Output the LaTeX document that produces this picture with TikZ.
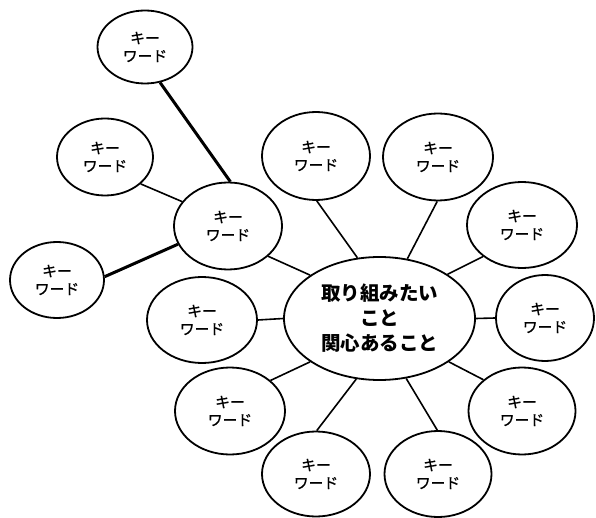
\documentclass[tikz,border=0pt]{standalone}
\usepackage{fontspec}
\newfontfamily\jp{Noto Sans CJK JP}
\newfontfamily\jpkw[FakeBold=1]{Noto Sans CJK JP}
\usetikzlibrary{shapes.geometric}

\tikzset{
  oval/.style={ellipse, draw, line width=1.8pt, inner sep=0pt, fill=white},
  kw/.style={oval, align=center, font=\jpkw\fontsize{14.8}{18}\selectfont},
  hubtext/.style={oval, align=center, font=\jp\bfseries\fontsize{19.5}{25}\selectfont},
  link/.style={line width=1.6pt},
  boldlink/.style={line width=3pt}
}

\begin{document}
\begin{tikzpicture}[x=1pt, y=-1pt]
  \useasboundingbox[fill=white] (0,0) rectangle (596,518);

  % central theme
  \node[hubtext, minimum width=191pt, minimum height=123pt] (C) at (379.5,318.5)
    {取り組みたい\\こと\\関心あること};

  % keywords around the theme
  \node[kw, minimum width=108pt, minimum height=87pt] (H)  at (228,226) {キー\\ワード};
  \node[kw, minimum width=108pt, minimum height=88pt] (K1) at (316,156) {キー\\ワード};
  \node[kw, minimum width=110pt, minimum height=87pt] (K2) at (438,157) {キー\\ワード};
  \node[kw, minimum width=110pt, minimum height=86pt] (K3) at (522,225) {キー\\ワード};
  \node[kw, minimum width=98pt,  minimum height=86pt] (K4) at (545,318) {キー\\ワード};
  \node[kw, minimum width=110pt, minimum height=86pt] (K5) at (202,320) {キー\\ワード};
  \node[kw, minimum width=110pt, minimum height=87pt] (K6) at (230,411) {キー\\ワード};
  \node[kw, minimum width=107pt, minimum height=87pt] (K7) at (522,411) {キー\\ワード};
  \node[kw, minimum width=108pt, minimum height=85pt] (K8) at (316,474) {キー\\ワード};
  \node[kw, minimum width=107pt, minimum height=86pt] (K9) at (438,474) {キー\\ワード};

  % keywords branching off the left keyword
  \node[kw, minimum width=95pt, minimum height=73pt] (T)  at (145,47)  {キー\\ワード};
  \node[kw, minimum width=96pt, minimum height=77pt] (LU) at (105,157) {キー\\ワード};
  \node[kw, minimum width=94pt, minimum height=76pt] (LL) at (57,280)  {キー\\ワード};

  % connectors
  \draw[link] (H.-37)   -- (C.148);
  \draw[link] (K1.-89)  -- (C.110.6);
  \draw[link] (K2.-91)  -- (C.65.5);
  \draw[link] (K3.219)  -- (C.33.6);
  \draw[link] (C.0)     -- (K4.180);
  \draw[link] (K5.0)    -- (C.180);
  \draw[link] (K6.37.8) -- (C.212.6);
  \draw[link] (K7.141.5)-- (C.-32.8);
  \draw[link] (K8.89)   -- (C.-111);
  \draw[link] (K9.91)   -- (C.-66.6);
  \draw[boldlink] (T.-67)  -- (H.87);
  \draw[link]     (LU.-37) -- (H.152);
  \draw[boldlink] (LL.4)   -- (H.200);
\end{tikzpicture}
\end{document}
